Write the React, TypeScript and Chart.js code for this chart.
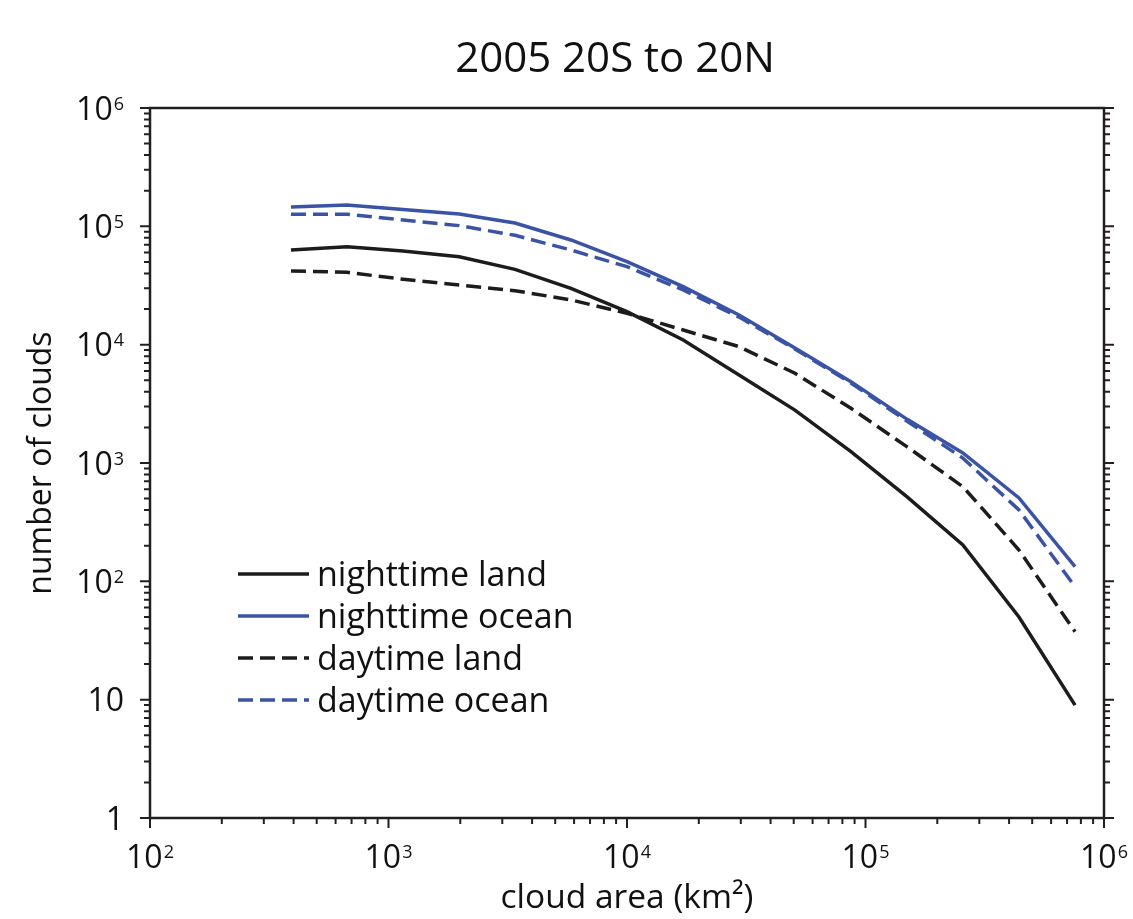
import React, { useEffect, useRef } from "react";
import { Chart, registerables } from "chart.js";

Chart.register(...registerables);

// cloud area (km²) bin centres
const cloudArea = [390, 670, 1150, 1980, 3390, 5820, 10000, 17200, 29500, 50600, 86900, 149000, 256000, 440000, 756000];
// number of clouds per bin
const nighttimeLand = [63100, 67300, 61900, 55400, 43300, 29900, 19000, 10960, 5540, 2800, 1246, 519, 203, 50, 9];
const nighttimeOcean = [145600, 151700, 139000, 127000, 106600, 76700, 50300, 30900, 17800, 9380, 4870, 2350, 1215, 506, 133];
const daytimeLand = [42000, 40900, 35700, 31900, 28600, 23900, 18400, 13300, 9620, 5730, 2900, 1374, 631, 184, 37.5];
const daytimeOcean = [126500, 126500, 113000, 101400, 84000, 63100, 45600, 29000, 17100, 9190, 4740, 2260, 1100, 401, 90];

const xTickExps = [2, 3, 4, 5, 6];
const yTickExps = [0, 1, 2, 3, 4, 5, 6];
const seriesLabels = ["nighttime land", "nighttime ocean", "daytime land", "daytime ocean"];

const TITLE = "2005 20S to 20N";
const X_TITLE = "cloud area (km²)";
const Y_TITLE = "number of clouds";

const BLACK = "#1c1c1c";
const BLUE = "#3a53a5";
const AXIS = "#231f20";
const DASH = [15, 7];
const FONT = '"Open Sans", "Noto Sans", sans-serif';

function drawPow(ctx: CanvasRenderingContext2D, exp: number, x: number, y: number, align: "right" | "center") {
  const base = exp === 0 ? "1" : "10";
  ctx.font = `32px ${FONT}`;
  const wb = ctx.measureText(base).width;
  let we = 0;
  const showExp = exp >= 2;
  if (showExp) {
    ctx.font = `18px ${FONT}`;
    we = ctx.measureText(String(exp)).width + 1;
  }
  const total = wb + we;
  const start = align === "right" ? x - total : x - total / 2;
  ctx.textAlign = "left";
  ctx.textBaseline = "alphabetic";
  ctx.font = `32px ${FONT}`;
  ctx.fillText(base, start, y);
  if (showExp) {
    ctx.font = `18px ${FONT}`;
    ctx.fillText(String(exp), start + wb + 1, y - 10);
  }
}

const framePlugin = {
  id: "frame",
  afterDraw(chart: any) {
    const ctx: CanvasRenderingContext2D = chart.ctx;
    const xs = chart.scales.x;
    const ys = chart.scales.y;
    const { left, right, top, bottom } = chart.chartArea;
    ctx.save();
    ctx.fillStyle = "#000";
    ctx.strokeStyle = AXIS;

    // box
    ctx.lineWidth = 2.5;
    ctx.strokeRect(left, top, right - left, bottom - top);

    // ticks
    ctx.lineWidth = 2;
    ctx.beginPath();
    for (let d = 0; d <= 6; d++) {
      for (let k = 1; k <= 9; k++) {
        const v = k * Math.pow(10, d);
        if (v > 1e6) break;
        const len = k === 1 ? 10 : 6;
        const py = ys.getPixelForValue(v);
        ctx.moveTo(left, py);
        ctx.lineTo(left - len, py);
        ctx.moveTo(right, py);
        ctx.lineTo(right + len, py);
      }
    }
    for (let d = 2; d <= 6; d++) {
      for (let k = 1; k <= 9; k++) {
        const v = k * Math.pow(10, d);
        if (v > 1e6) break;
        const len = k === 1 ? 10 : 6;
        const px = xs.getPixelForValue(v);
        ctx.moveTo(px, bottom);
        ctx.lineTo(px, bottom + len);
      }
    }
    ctx.stroke();

    // tick labels
    ctx.fillStyle = "#111";
    yTickExps.forEach((e) => {
      const py = ys.getPixelForValue(Math.pow(10, e));
      drawPow(ctx, e, left - 26, py + 11.5, "right");
    });
    xTickExps.forEach((e) => {
      const px = xs.getPixelForValue(Math.pow(10, e));
      drawPow(ctx, e, px, bottom + 50, "center");
    });

    // title
    ctx.font = `42px ${FONT}`;
    ctx.textAlign = "center";
    ctx.textBaseline = "alphabetic";
    ctx.fillText(TITLE, 615, 72);

    // axis titles
    ctx.font = `33.5px ${FONT}`;
    ctx.fillText(X_TITLE, (left + right) / 2, bottom + 90);
    ctx.font = `32px ${FONT}`;
    ctx.save();
    ctx.translate(51, (top + bottom) / 2);
    ctx.rotate(-Math.PI / 2);
    ctx.fillText(Y_TITLE, 0, 0);
    ctx.restore();

    // legend
    const ds = chart.data.datasets;
    const rowY = [574, 616, 658, 700];
    ds.forEach((d: any, i: number) => {
      const y = rowY[i];
      ctx.save();
      ctx.strokeStyle = d.borderColor;
      ctx.lineWidth = 3.5;
      ctx.setLineDash(d.borderDash || []);
      ctx.beginPath();
      ctx.moveTo(238, y);
      ctx.lineTo(309, y);
      ctx.stroke();
      ctx.restore();
      ctx.font = `34px ${FONT}`;
      ctx.textAlign = "left";
      ctx.fillStyle = "#111";
      ctx.fillText(d.label, 317, y + 12);
    });
    ctx.restore();
  },
};

export default function App() {
  const ref = useRef<HTMLCanvasElement | null>(null);
  useEffect(() => {
    if (!ref.current) return;
    const mk = (vals: number[]) => cloudArea.map((x, i) => ({ x, y: vals[i] }));
    const chart = new Chart(ref.current, {
      type: "line",
      data: {
        datasets: [
          { label: seriesLabels[0], data: mk(nighttimeLand), borderColor: BLACK, borderWidth: 3.5, pointRadius: 0, fill: false },
          { label: seriesLabels[1], data: mk(nighttimeOcean), borderColor: BLUE, borderWidth: 3.5, pointRadius: 0, fill: false },
          { label: seriesLabels[2], data: mk(daytimeLand), borderColor: BLACK, borderWidth: 3.5, borderDash: DASH, pointRadius: 0, fill: false },
          { label: seriesLabels[3], data: mk(daytimeOcean), borderColor: BLUE, borderWidth: 3.5, borderDash: DASH, pointRadius: 0, fill: false },
        ],
      },
      options: {
        animation: false,
        responsive: false,
        devicePixelRatio: 1,
        layout: { padding: { left: 150, right: 29, top: 108, bottom: 101 } },
        plugins: { legend: { display: false }, title: { display: false }, tooltip: { enabled: false } },
        scales: {
          x: { type: "logarithmic", min: 100, max: 1e6, display: false },
          y: { type: "logarithmic", min: 1, max: 1e6, display: false },
        },
      },
      plugins: [framePlugin],
    });
    return () => chart.destroy();
  }, []);
  return (
    <div style={{ position: "fixed", left: 0, top: 0, width: 1133, height: 919, background: "#fff" }}>
      <canvas ref={ref} width={1133} height={919} />
    </div>
  );
}
